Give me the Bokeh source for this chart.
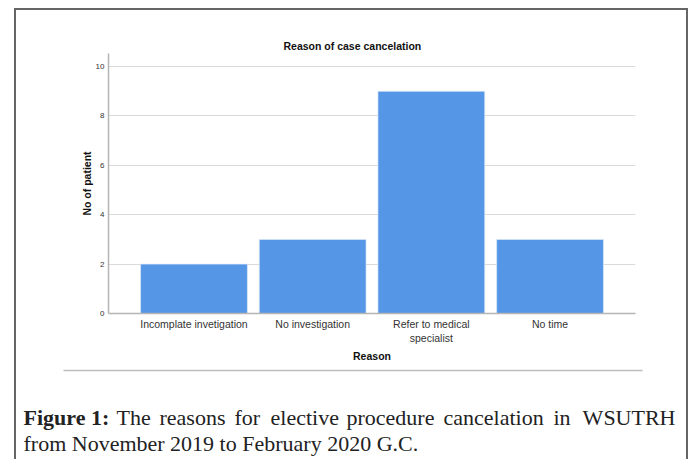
from bokeh.plotting import figure
from bokeh.models import FactorRange, Range1d, Label, FixedTicker, ColumnDataSource
from bokeh.embed import file_html
from bokeh.resources import INLINE

reasons = ["Incomplate invetigation", "No investigation", "Refer to medical\nspecialist", "No time"]
counts = [2, 3, 9, 3]
y_ticks = [0, 2, 4, 6, 8, 10]
title_text = "Reason of case cancelation"
x_label = "Reason"
y_label = "No of patient"
caption_bold = "Figure 1:"
caption_line1 = "The reasons for elective procedure cancelation in WSUTRH"
caption_line2 = "from November 2019 to February 2020 G.C."

# layout only: left edge of each caption word on line 1 (justified line)
caption_word_x = [116, 159, 234, 270, 346, 443, 553]

src = ColumnDataSource(dict(reason=reasons, count=counts))

p = figure(width=674, height=355,
           x_range=FactorRange(factors=reasons, range_padding=0.11, range_padding_units="percent"),
           y_range=Range1d(0, 10.53),
           output_backend="svg", toolbar_location=None,
           min_border_left=92, min_border_right=55, min_border_top=43, min_border_bottom=52,
           styles={"border": "2px solid #666666", "border-bottom": "none",
                   "margin-left": "14px", "margin-top": "8px"})

p.vbar(x="reason", top="count", width=0.9, source=src,
       fill_color="#5596E6", line_color="#dfeaf8", line_width=0.7)

p.title.text = title_text
p.title.align = "left"
p.title.offset = 175
p.title.text_font = "Liberation Sans"
p.title.text_font_size = "10.5px"
p.title.text_font_style = "bold"
p.title.text_color = "#111111"
p.title.standoff = 4

p.outline_line_color = None
p.background_fill_color = "white"
p.border_fill_color = "white"
p.xgrid.grid_line_color = None
p.ygrid.grid_line_color = "#dadada"
p.ygrid.grid_line_width = 1.2
p.yaxis.ticker = FixedTicker(ticks=y_ticks)
for ax in (p.xaxis[0], p.yaxis[0]):
    ax.axis_line_color = "#b5b5b5"
    ax.axis_line_width = 1.5
    ax.major_tick_line_color = None
    ax.minor_tick_line_color = None
    ax.major_tick_out = 0
    ax.major_tick_in = 0
    ax.minor_tick_out = 0
    ax.minor_tick_in = 0
    ax.major_label_text_color = "#333333"
    ax.major_label_text_font = "Liberation Sans"
    ax.axis_label_text_font = "Liberation Sans"
    ax.axis_label_text_font_style = "bold"
    ax.axis_label_text_font_size = "10.5px"
    ax.axis_label_text_color = "#111111"
p.yaxis.major_label_text_font_size = "8px"
p.yaxis.major_label_standoff = 4
p.yaxis.axis_label = y_label
p.yaxis.axis_label_standoff = 0
p.xaxis.major_label_text_font_size = "10.5px"
p.xaxis.major_label_standoff = 4
p.xaxis.axis_label = x_label
p.xaxis.axis_label_standoff = 3

# caption panel: data units equal page pixels
c = figure(width=674, height=96, x_range=Range1d(16, 690), y_range=Range1d(461, 365),
           output_backend="svg", toolbar_location=None, min_border=0,
           styles={"border-left": "2px solid #666666", "border-right": "2px solid #666666",
                   "margin-left": "14px"})
c.axis.visible = False
c.grid.grid_line_color = None
c.outline_line_color = None
c.segment(x0=[63], y0=[372], x1=[642], y1=[372], line_color="#bdbdbd", line_width=1.5)

cap_style = dict(text_baseline="alphabetic", text_font="Liberation Serif",
                 text_font_size="22px", text_color="#222222")
c.add_layout(Label(x=23, y=419, text=caption_bold, text_font_style="bold", **cap_style))
words = caption_line1.split(" ")
for wx, w in zip(caption_word_x, words[:-1]):
    c.add_layout(Label(x=wx, y=419, text=w, text_align="left", **cap_style))
c.add_layout(Label(x=675, y=419, text=words[-1], text_align="right", **cap_style))
c.add_layout(Label(x=23, y=445, text=caption_line2, text_align="left", **cap_style))

open("out.html", "w").write(file_html([p, c], INLINE))
